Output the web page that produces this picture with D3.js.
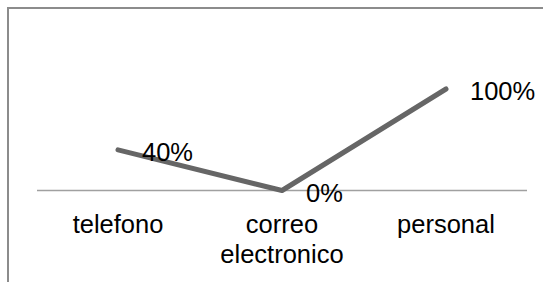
<!DOCTYPE html>
<html><head><meta charset="utf-8">
<script src="https://cdn.jsdelivr.net/npm/d3@7"></script>
<style>html,body{margin:0;padding:0;background:#fff;}svg{display:block;}</style>
</head><body>
<svg id="c" width="543" height="282"></svg>
<script>
const categories = ["telefono", "correo electronico", "personal"];
const values = [0.40, 0.00, 1.00];
const valueLabels = ["40%", "0%", "100%"];

const svg = d3.select("#c");
const W = 543, H = 282;
const font = "'Liberation Sans', Arial, sans-serif";
const fs = 25.5;

// frame (clipped on right & bottom)
svg.append("path").attr("d", `M8,${H} V8 H${W}`).attr("fill", "none").attr("stroke", "#8c8c8c").attr("stroke-width", 2);

const x = d3.scalePoint().domain(categories).range([118, 446]);
const y = d3.scaleLinear().domain([0, 1]).range([190.5, 89]);

// axis
const xAxis = d3.axisBottom(x).tickSize(0).tickPadding(0).tickFormat("");
const ax = svg.append("g").attr("transform", `translate(0,${y(0)})`).call(xAxis);
ax.select(".domain").remove();
svg.append("line").attr("x1", 37).attr("x2", 527).attr("y1", y(0)).attr("y2", y(0))
  .attr("stroke", "#a0a0a0").attr("stroke-width", 1.5);

// category labels
categories.forEach((c, i) => {
  const words = c.split(" ");
  const t = svg.append("text").attr("x", x(c)).attr("y", 233).attr("text-anchor", "middle")
    .attr("font-family", font).attr("font-size", fs).attr("fill", "#000");
  words.forEach((w, j) => t.append("tspan").attr("x", x(c)).attr("dy", j === 0 ? 0 : 30).text(w));
});

// line
const line = d3.line().x((d, i) => x(categories[i])).y(d => y(d));
svg.append("path").datum(values).attr("d", line).attr("fill", "none")
  .attr("stroke", "#666666").attr("stroke-width", 5).attr("stroke-linecap", "round").attr("stroke-linejoin", "round");

// value labels
values.forEach((v, i) => {
  svg.append("text").attr("x", x(categories[i]) + 24).attr("y", y(v) + 11)
    .attr("font-family", font).attr("font-size", fs).attr("fill", "#000").text(valueLabels[i]);
});
</script>
</body></html>
